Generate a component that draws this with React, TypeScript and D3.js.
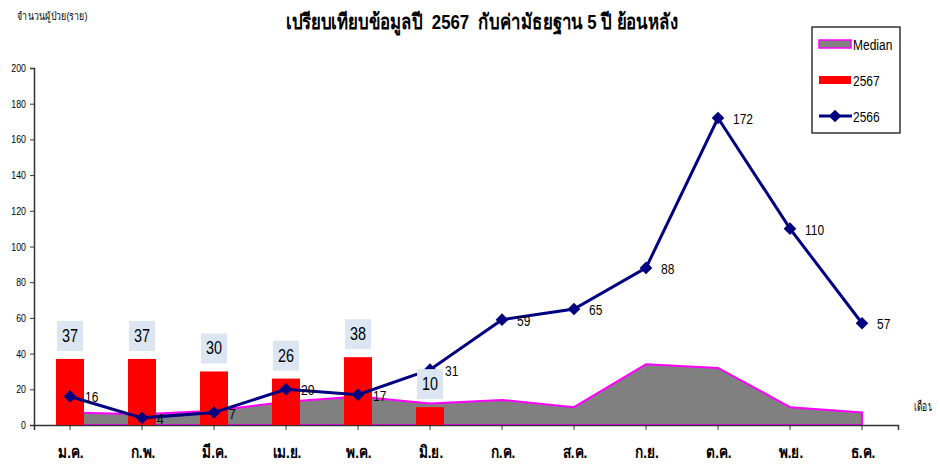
import React, { useEffect, useRef } from 'react'
import * as d3 from 'd3'

const months = ['ม.ค.', 'ก.พ.', 'มี.ค.', 'เม.ย.', 'พ.ค.', 'มิ.ย.', 'ก.ค.', 'ส.ค.', 'ก.ย.', 'ต.ค.', 'พ.ย.', 'ธ.ค.']
const median = [7, 6, 8, 13, 16, 12, 14, 10, 34, 32, 10, 7]
const y2567 = [37, 37, 30, 26, 38, 10]
const y2566 = [16, 4, 7, 20, 17, 31, 59, 65, 88, 172, 110, 57]
const yTicks = [0, 20, 40, 60, 80, 100, 120, 140, 160, 180, 200]
const legendNames = ['Median', '2567', '2566']

const FONT = '"Liberation Sans", "Noto Sans", sans-serif'
const NARROW = 0.8

export default function App() {
  const ref = useRef<SVGSVGElement>(null)

  useEffect(() => {
    const width = 940
    const height = 466
    const left = 34
    const right = 898
    const top = 68
    const bottom = 425

    const svg = d3.select(ref.current)
    svg.selectAll('*').remove()
    svg.attr('width', width).attr('height', height)

    const x = d3.scaleBand<string>().domain(months).range([left, right])
    const cx = (i: number) => (x(months[i]) as number) + x.bandwidth() / 2
    const y = d3.scaleLinear().domain([0, 200]).range([bottom, top])

    // narrow text helper: the reference uses a condensed face
    const narrowText = (g: any, tx: number, ty: number, size: number, txt: string, anchor = 'start', weight = 'normal', sx = NARROW) =>
      g.append('text')
        .attr('transform', `translate(${tx},${ty}) scale(${sx},1)`)
        .attr('text-anchor', anchor)
        .attr('font-family', FONT)
        .attr('font-size', size)
        .attr('font-weight', weight)
        .attr('fill', '#000')
        .text(txt)

    // title
    narrowText(svg, 482, 29, 21, 'เปรียบเทียบข้อมูลปี  2567  กับค่ามัธยฐาน 5 ปี ย้อนหลัง', 'middle', 'bold')
      .attr('xml:space', 'preserve')
      .style('white-space', 'pre')

    narrowText(svg, 17, 20, 11, 'จำนวนผู้ป่วย(ราย)')
    narrowText(svg, 914, 411, 13, 'เดือน', 'start', 'normal', 0.65)

    // median area
    const area = d3.area<number>()
      .x((d, i) => cx(i))
      .y0(y(0))
      .y1(d => y(d))
    svg.append('path')
      .datum(median)
      .attr('d', area)
      .attr('fill', '#808080')
      .attr('stroke', '#ff00ff')
      .attr('stroke-width', 2)

    // axes
    const yAxis = d3.axisLeft(y).tickValues(yTicks).tickSize(4).tickPadding(4)
    const gy = svg.append('g').attr('transform', `translate(${left},0)`).call(yAxis)
    gy.select('.domain').attr('stroke', '#333').attr('stroke-width', 1.5)
    gy.selectAll('.tick line').attr('stroke', '#333')
    gy.selectAll('.tick text')
      .attr('font-family', FONT).attr('font-size', 11).attr('fill', '#000')
      .attr('transform', 'translate(-8,0) scale(0.8,1) translate(8,0)')

    const xAxis = d3.axisBottom(x).tickSize(5).tickSizeOuter(5).tickPadding(16)
    const gx = svg.append('g').attr('transform', `translate(0,${bottom})`).call(xAxis)
    gx.select('.domain').attr('stroke', '#333').attr('stroke-width', 1.5)
    gx.selectAll('.tick line').attr('stroke', '#333')
    gx.selectAll('.tick text').attr('font-family', FONT).attr('font-size', 17)
      .attr('font-weight', 'bold').attr('fill', '#000')
      .attr('transform', `translate(1,0) scale(${NARROW},1)`)

    // 2567 bars
    const barW = 28
    svg.append('g').selectAll('rect')
      .data(y2567)
      .join('rect')
      .attr('x', (d, i) => cx(i) - barW / 2)
      .attr('y', d => y(d))
      .attr('width', barW)
      .attr('height', d => y(0) - y(d))
      .attr('fill', '#ff0000')

    // 2566 line
    const line = d3.line<number>().x((d, i) => cx(i)).y(d => y(d))
    svg.append('path')
      .datum(y2566)
      .attr('d', line)
      .attr('fill', 'none')
      .attr('stroke', '#000080')
      .attr('stroke-width', 3)

    const diamond = d3.symbol().type(d3.symbolSquare).size(80)
    svg.append('g').selectAll('path')
      .data(y2566)
      .join('path')
      .attr('transform', (d, i) => `translate(${cx(i)},${y(d)}) rotate(45)`)
      .attr('d', diamond)
      .attr('fill', '#000080')

    const lineLabels = svg.append('g')
    y2566.forEach((d, i) => {
      narrowText(lineLabels, cx(i) + 15, y(d) + 6, 15, String(d))
    })

    // bar labels
    const lbl = svg.append('g')
    y2567.forEach((d, i) => {
      lbl.append('rect')
        .attr('x', cx(i) - 13).attr('y', y(d) - 38).attr('width', 26).attr('height', 30)
        .attr('fill', '#dce6f2')
      narrowText(lbl, cx(i), y(d) - 17, 18, String(d), 'middle')
    })

    // legend
    const lg = svg.append('g').attr('transform', 'translate(812,27)')
    lg.append('rect').attr('width', 88).attr('height', 106)
      .attr('fill', '#fff').attr('stroke', '#000').attr('stroke-width', 1.2)
    lg.append('rect').attr('x', 7).attr('y', 13).attr('width', 32).attr('height', 8)
      .attr('fill', '#808080').attr('stroke', '#ff00ff').attr('stroke-width', 1.5)
    lg.append('rect').attr('x', 7).attr('y', 49).attr('width', 32).attr('height', 8)
      .attr('fill', '#ff0000')
    lg.append('line').attr('x1', 7).attr('x2', 40).attr('y1', 89).attr('y2', 89)
      .attr('stroke', '#000080').attr('stroke-width', 3)
    lg.append('path').attr('transform', 'translate(23,89) rotate(45)').attr('d', diamond)
      .attr('fill', '#000080')
    legendNames.forEach((n, i) => {
      narrowText(lg, 41, 23 + i * 36, 15, n)
    })
  }, [])

  return (
    <div style={{ margin: -8 }}>
      <svg ref={ref} style={{ display: 'block' }}></svg>
    </div>
  )
}
